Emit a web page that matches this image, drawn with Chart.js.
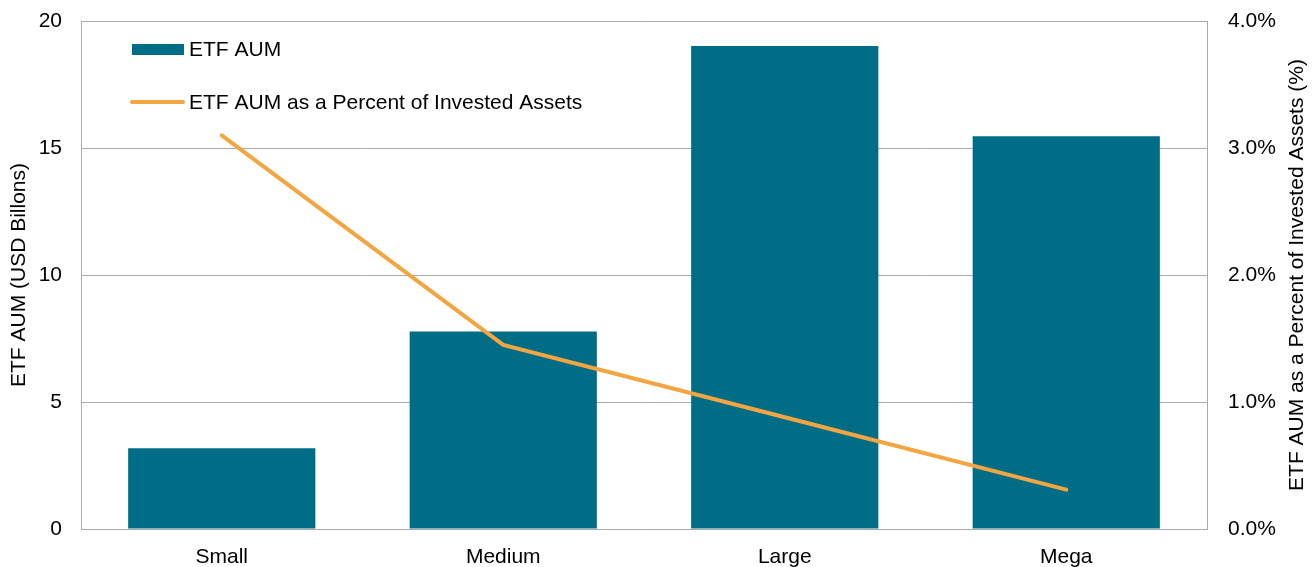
<!DOCTYPE html>
<html>
<head>
<meta charset="utf-8">
<script src="https://cdn.jsdelivr.net/npm/chart.js@4"></script>
<style>
  html, body { margin: 0; padding: 0; background: #fff; }
  #wrap { width: 1314px; height: 567px; }
</style>
</head>
<body>
<div id="wrap"><canvas id="graphique" width="1314" height="567"></canvas></div>
<script>
// donnees
const categories = ['Small', 'Medium', 'Large', 'Mega'];
const aumValues = [3.18, 7.78, 19.02, 15.46];      // USD milliards
const pctValues = [3.10, 1.45, 0.88, 0.31];        // % des actifs investis
const leftTicks = [0, 5, 10, 15, 20];
const rightTicks = [0, 1, 2, 3, 4];
const titreDroite = 'ETF AUM as a Percent of Invested Assets (%)';

const police = '"Liberation Sans", Arial, sans-serif';
const taille = 21;
const couleurBarre = '#006D87';
const couleurLigne = '#F2A541';
const couleurGrille = '#ABABAB';

// legende dessinee dans la zone du graphique, en haut a gauche
const legendeInterne = {
    id: 'legendeInterne',
    afterDatasetsDraw(chart) {
        const ctx = chart.ctx;
        // barres d'abord, puis la ligne
        const items = chart.data.datasets.slice().sort((a, b) => b.order - a.order);
        ctx.save();
        ctx.font = taille + 'px ' + police;
        ctx.textBaseline = 'middle';
        items.forEach((ds, i) => {
            const y = 49 + i * 53;
            if (ds.type === 'line') {
                ctx.strokeStyle = ds.borderColor;
                ctx.lineWidth = 4;
                ctx.lineCap = 'round';
                ctx.beginPath();
                ctx.moveTo(132, y);
                ctx.lineTo(183, y);
                ctx.stroke();
            } else {
                ctx.fillStyle = ds.backgroundColor;
                ctx.fillRect(132, y - 5, 52, 11);
            }
            ctx.fillStyle = '#000';
            ctx.fillText(ds.label, 189, y + 1);
        });
        ctx.restore();
    }
};

// titre de l'axe de droite, lu de bas en haut
const titreAxeDroite = {
    id: 'titreAxeDroite',
    afterDraw(chart) {
        const ctx = chart.ctx;
        const area = chart.chartArea;
        ctx.save();
        ctx.translate(1297, (area.top + area.bottom) / 2);
        ctx.rotate(-Math.PI / 2);
        ctx.font = taille + 'px ' + police;
        ctx.fillStyle = '#000';
        ctx.textAlign = 'center';
        ctx.textBaseline = 'middle';
        ctx.fillText(titreDroite, 0, 0);
        ctx.restore();
    }
};

// pas de marge ajoutee par les etiquettes en haut / bas
function sansMarge(axis, largeur) {
    axis.width = largeur;
    axis.paddingTop = 0;
    axis.paddingBottom = 0;
}

const ctx = document.getElementById('graphique').getContext('2d');
new Chart(ctx, {
    data: {
        labels: categories,
        datasets: [
            {
                type: 'line',
                label: 'ETF AUM as a Percent of Invested Assets',
                data: pctValues,
                yAxisID: 'y1',
                borderColor: couleurLigne,
                backgroundColor: couleurLigne,
                borderWidth: 4,
                borderCapStyle: 'round',
                pointRadius: 0,
                tension: 0,
                order: 0
            },
            {
                type: 'bar',
                label: 'ETF AUM',
                data: aumValues,
                yAxisID: 'y',
                backgroundColor: couleurBarre,
                borderWidth: 0,
                categoryPercentage: 1,
                barPercentage: 0.665,
                order: 1
            }
        ]
    },
    options: {
        responsive: false,
        animation: false,
        layout: { padding: { top: 21, left: 0, right: 0, bottom: 0 } },
        plugins: {
            legend: { display: false },
            tooltip: { enabled: false }
        },
        scales: {
            x: {
                grid: { display: false, drawTicks: false },
                border: { color: couleurGrille, width: 1 },
                ticks: { color: '#000', font: { family: police, size: taille }, padding: 16 },
                afterFit(axis) { axis.height = 38; }
            },
            y: {
                position: 'left',
                min: 0, max: 20,
                afterBuildTicks(axis) { axis.ticks = leftTicks.map(v => ({ value: v })); },
                grid: { color: couleurGrille, lineWidth: 1, drawTicks: false },
                border: { color: couleurGrille, width: 1 },
                ticks: { color: '#000', font: { family: police, size: taille }, padding: 19 },
                title: {
                    display: true,
                    text: 'ETF AUM (USD Billons)',
                    color: '#000',
                    font: { family: police, size: taille },
                    padding: { top: 7, bottom: 0 }
                },
                afterFit(axis) { sansMarge(axis, 81); }
            },
            y1: {
                position: 'right',
                min: 0, max: 4,
                afterBuildTicks(axis) { axis.ticks = rightTicks.map(v => ({ value: v })); },
                grid: { drawOnChartArea: false, drawTicks: false },
                border: { color: couleurGrille, width: 1 },
                ticks: {
                    color: '#000',
                    font: { family: police, size: taille },
                    padding: 21,
                    callback: v => v.toFixed(1) + '%'
                },
                afterFit(axis) { sansMarge(axis, 107); }
            }
        }
    },
    plugins: [legendeInterne, titreAxeDroite]
});
</script>
</body>
</html>
